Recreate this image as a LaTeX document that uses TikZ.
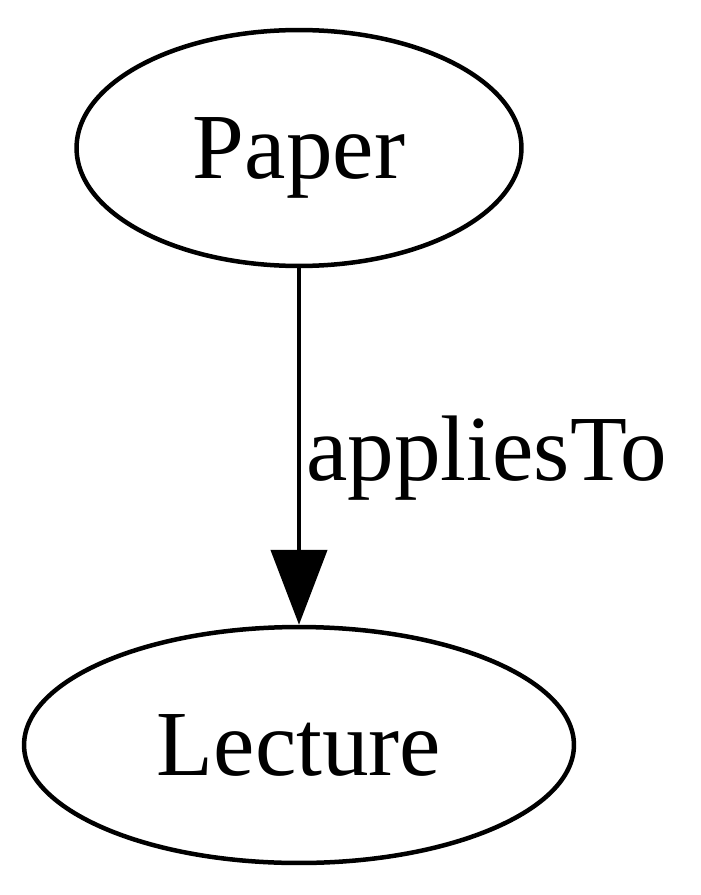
\documentclass[tikz,border=0pt]{standalone}
\usepackage{fontspec}
\setmainfont{Liberation Serif}
\usetikzlibrary{shapes.geometric}
\usetikzlibrary{arrows.meta}
\tikzset{
	class-node/.style={draw, ellipse, line width=0.09cm, minimum height=4.72cm, text depth=0pt, font=\fontsize{53}{60}\selectfont},
	rel-edge/.style={line width=0.09cm, -{Triangle[length=1.5cm,width=1.12cm]}},
	rel-label/.style={anchor=base west, inner sep=0pt, font=\fontsize{53}{60}\selectfont}
}

\begin{document}
\begin{tikzpicture}[x=0.02cm, y=-0.02cm]
\useasboundingbox (0,0) rectangle (700,895);
\node [class-node, minimum width=8.9cm] (paper) at (299,148) {Paper};
\node [class-node, minimum width=11cm] (lecture) at (299,745) {Lecture};
\draw [rel-edge] (paper) -- node [rel-label, pos=0.595, xshift=0.1cm] {appliesTo} (lecture);
\end{tikzpicture}
\end{document}
